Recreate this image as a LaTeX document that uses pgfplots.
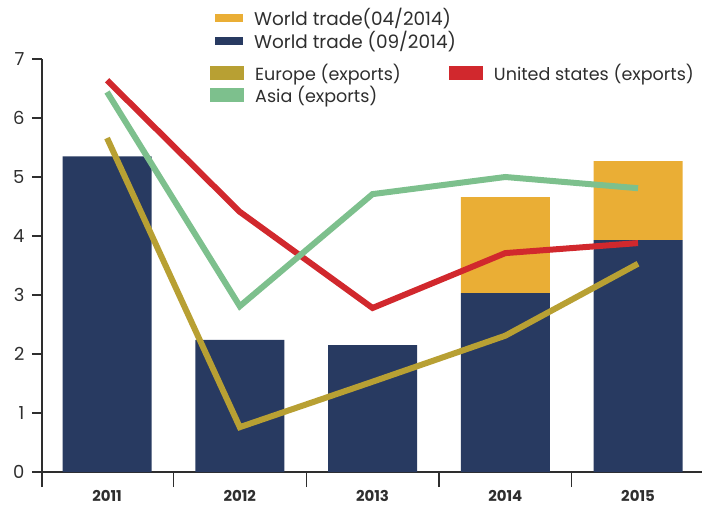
\documentclass[border=0pt]{standalone}
\usepackage{pgfplots}
\pgfplotsset{compat=1.18}
\usepackage{fontspec}
\setmainfont{Poppins}
\definecolor{navy}{HTML}{283A61}
\definecolor{gold}{HTML}{EAAE35}
\definecolor{olive}{HTML}{B8A033}
\definecolor{usred}{HTML}{D1282D}
\definecolor{asia}{HTML}{7DC08D}
\definecolor{axisgray}{HTML}{2E2E2E}
\pgfplotsset{
  base/.style={scale only axis, width=662.4bp, height=413bp,
    xmin=-0.49, xmax=4.5, ymin=0, ymax=7, clip=false},
  patch/.style={legend image code/.code={\fill[##1] (0bp,-4bp) rectangle (28bp,4bp);}},
}
\begin{document}
\begin{tikzpicture}
\begin{axis}[base, name=ax,
  axis x line*=bottom, axis y line*=left,
  x axis line style={line width=2.5pt, color=axisgray},
  y axis line style={line width=1.5pt, color=axisgray},
  ybar stacked, bar width=89bp,
  ytick={0,...,7},
  xtick={0,...,4}, xticklabels={2011,2012,2013,2014,2015},
  minor xtick={-0.49,0.5,1.5,2.5,3.5},
  tick align=outside,
  major tick length=10bp, minor tick length=15bp,
  major x tick style={draw=none},
  minor x tick style={line width=1.2pt, color=axisgray},
  major y tick style={line width=1.2pt, color=axisgray},
  /pgf/number format/assume math mode=true,
  yticklabel style={font=\fontsize{18}{18}\selectfont, color=axisgray, xshift=-4bp},
  xticklabel style={font=\bfseries\fontsize{15}{15}\selectfont, color=axisgray, yshift=-5bp},
  reverse legend,
  legend cell align=left,
  legend style={at={(axis description cs:0.2612,1.128)}, anchor=north west,
    draw=none, fill=none, inner sep=0pt, row sep=0bp,
    font=\fontsize{18.5}{20}\selectfont, text=axisgray,
    /tikz/every odd column/.append style={column sep=9bp}},
]
\addplot[fill=navy, draw=none, patch] coordinates {(0,5.35) (1,2.24) (2,2.15) (3,3.03) (4,3.93)};
\addlegendentry{World trade (09/2014)}
\addplot[fill=gold, draw=none, patch] coordinates {(0,0) (1,0) (2,0) (3,1.63) (4,1.34)};
\addlegendentry{World trade(04/2014)}
\end{axis}
\begin{axis}[base, axis lines=none, legend columns=2,
  legend cell align=left,
  legend style={at={(axis description cs:0.2537,0.993)}, anchor=north west,
    draw=none, fill=none, inner sep=0pt, row sep=0bp,
    font=\fontsize{17.6}{20}\selectfont, text=axisgray,
    /tikz/every odd column/.append style={column sep=9bp},
    /tikz/every even column/.append style={column sep=46bp}},
]
\addplot[color=olive, line width=6bp, patch] coordinates {(0,5.66) (1,0.76) (2,1.53) (3,2.31) (4,3.53)};
\addlegendentry{Europe (exports)}
\addplot[color=usred, line width=6bp, patch] coordinates {(0,6.64) (1,4.41) (2,2.78) (3,3.71) (4,3.88)};
\addlegendentry{United states (exports)}
\addplot[color=asia, line width=6bp, patch] coordinates {(0,6.44) (1,2.81) (2,4.71) (3,5.0) (4,4.81)};
\addlegendentry{Asia (exports)}
\end{axis}
\pgfresetboundingbox
\path[use as bounding box] ([shift={(-42bp,-36bp)}]ax.south west) rectangle ++(702bp,508bp);
\end{tikzpicture}
\end{document}
